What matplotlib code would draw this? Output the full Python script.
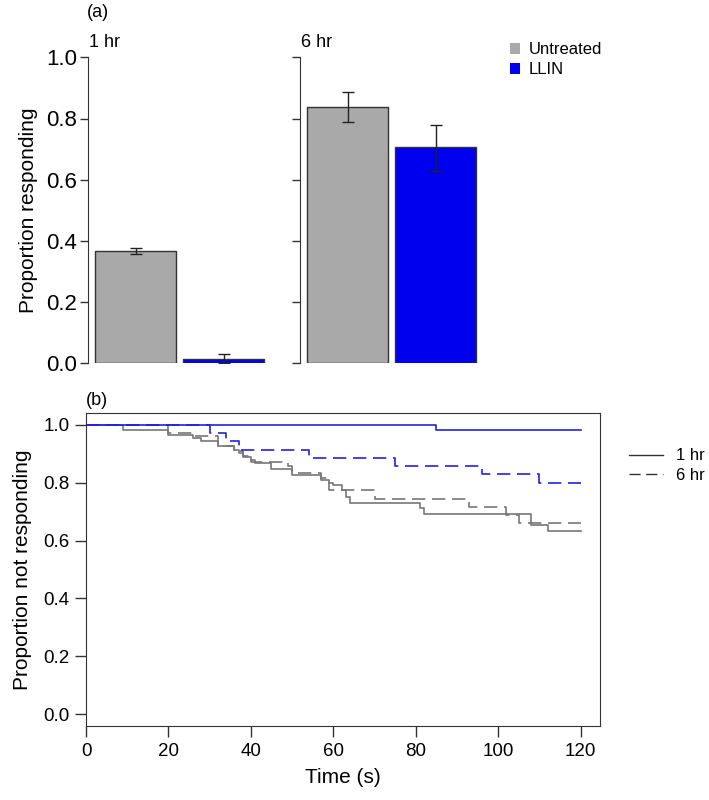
import numpy as np
import matplotlib
matplotlib.use('Agg')
import matplotlib.pyplot as plt
from matplotlib.patches import Patch
from matplotlib.lines import Line2D

plt.rcParams['font.family'] = ['Liberation Sans', 'DejaVu Sans']

# panel (a) data
groups = ['1 hr', '6 hr']
treatments = ['Untreated', 'LLIN']
untreated_mean = [0.367, 0.839]
untreated_lo = [0.357, 0.790]
untreated_hi = [0.377, 0.888]
llin_mean = [0.014, 0.706]
llin_lo = [0.0, 0.630]
llin_hi = [0.029, 0.779]

# panel (b) data: step curves (time of event, proportion after event)
t_untr_1 = [0, 9, 20, 26, 28, 32, 36, 37, 38, 40, 41, 45, 50, 57, 59, 60, 62, 63, 64, 81, 82, 108, 112, 120]
s_untr_1 = [1.0, .983, .963, .954, .942, .925, .913, .902, .888, .877, .866, .847, .827, .81, .80, .79,
            .775, .75, .73, .712, .692, .654, .634, .634]
t_untr_6 = [0, 20, 26, 32, 36, 38, 40, 49, 50, 57, 59, 70, 93, 102, 105, 120]
s_untr_6 = [1.0, .971, .962, .925, .908, .89, .871, .856, .833, .815, .773, .743, .716, .689, .66, .66]
t_llin_1 = [0, 85, 120]
s_llin_1 = [1.0, .98, .98]
t_llin_6 = [0, 30, 34, 37, 54, 75, 96, 110, 120]
s_llin_6 = [1.0, .971, .943, .914, .886, .857, .829, .80, .80]

grey = '#A9A9A9'
blue = '#0000EE'
W, H = 709, 800

fig = plt.figure(figsize=(7.09, 8), dpi=100)

def px_axes(left, top, width, height):
    return fig.add_axes([left / W, 1 - (top + height) / H, width / W, height / H])

bar_w = 1.0
xpos = np.array([0.09, 1.18]) + bar_w / 2
for i, g in enumerate(groups):
    ax = px_axes(88 + 212 * i, 57.3, 185.6, 306)
    means = [untreated_mean[i], llin_mean[i]]
    lo = [untreated_lo[i], llin_lo[i]]
    hi = [untreated_hi[i], llin_hi[i]]
    err = [np.array(means) - np.array(lo), np.array(hi) - np.array(means)]
    ax.bar(xpos, means, width=bar_w, color=[grey, blue], edgecolor='#333333', linewidth=1)
    ax.errorbar(xpos, means, yerr=err, fmt='none', ecolor='#222222', elinewidth=1,
                capsize=4, capthick=1)
    ax.set_xlim(0, 2.3)
    ax.set_ylim(0, 1)
    for s in ['top', 'right', 'bottom']:
        ax.spines[s].set_visible(False)
    ax.spines['left'].set_color('#333333')
    ax.set_xticks([])
    ax.set_yticks(np.arange(0, 1.01, 0.2))
    ax.tick_params(axis='y', direction='out', length=6, width=1, color='#333333',
                   labelsize=16, pad=2)
    if i == 0:
        ax.set_yticklabels(['%.1f' % v for v in np.arange(0, 1.01, 0.2)])
        ax.set_ylabel('Proportion responding', fontsize=15, labelpad=6)
    else:
        ax.set_yticklabels([])
    fig.text((89 + 212 * i) / W, 1 - 47 / H, g, fontsize=13, va='baseline', ha='left')
    for sp in ax.spines.values():
        sp.set_clip_on(False)

fig.text(87 / W, 1 - 17 / H, '(a)', fontsize=13, va='baseline', ha='left')
fig.legend(handles=[Patch(facecolor=grey, edgecolor='none'), Patch(facecolor=blue, edgecolor='none')],
           labels=treatments, loc='upper left', bbox_to_anchor=(502 / W, 1 - 34 / H),
           frameon=False, fontsize=12, handlelength=0.6, handleheight=0.6,
           handletextpad=0.5, labelspacing=0.3, borderpad=0)

# panel (b)
axb = px_axes(86, 413, 514, 313)
axb.step(t_untr_1, s_untr_1, where='post', color='#777777', lw=1.2)
axb.step(t_untr_6, s_untr_6, where='post', color='#777777', lw=1.2, dashes=(8, 4))
axb.step(t_llin_1, s_llin_1, where='post', color='#2222DD', lw=1.2)
axb.step(t_llin_6, s_llin_6, where='post', color='#2222DD', lw=1.2, dashes=(8, 4))
axb.set_xlim(0, 124.7)
axb.set_ylim(-0.04, 1.04)
axb.set_xticks(np.arange(0, 121, 20))
axb.set_yticks(np.arange(0, 1.01, 0.2))
axb.set_yticklabels(['%.1f' % v for v in np.arange(0, 1.01, 0.2)])
axb.tick_params(direction='out', length=8, width=1, color='#333333', labelsize=13.5, pad=4)
for sp in axb.spines.values():
    sp.set_color('#333333')
axb.set_xlabel('Time (s)', fontsize=15, labelpad=6)
axb.set_ylabel('Proportion not responding', fontsize=15, labelpad=8)
fig.text(86 / W, 1 - 405 / H, '(b)', fontsize=13, va='baseline', ha='left')
fig.legend(handles=[Line2D([], [], color='#333333', lw=1),
                    Line2D([], [], color='#333333', lw=1, dashes=(8, 4))],
           labels=['1 hr', '6 hr'], loc='upper left', bbox_to_anchor=(621 / W, 1 - 440 / H),
           frameon=False, fontsize=12, handlelength=2.0, handletextpad=0.8,
           labelspacing=0.25, borderpad=0)

fig.savefig('out.png', dpi=100)
